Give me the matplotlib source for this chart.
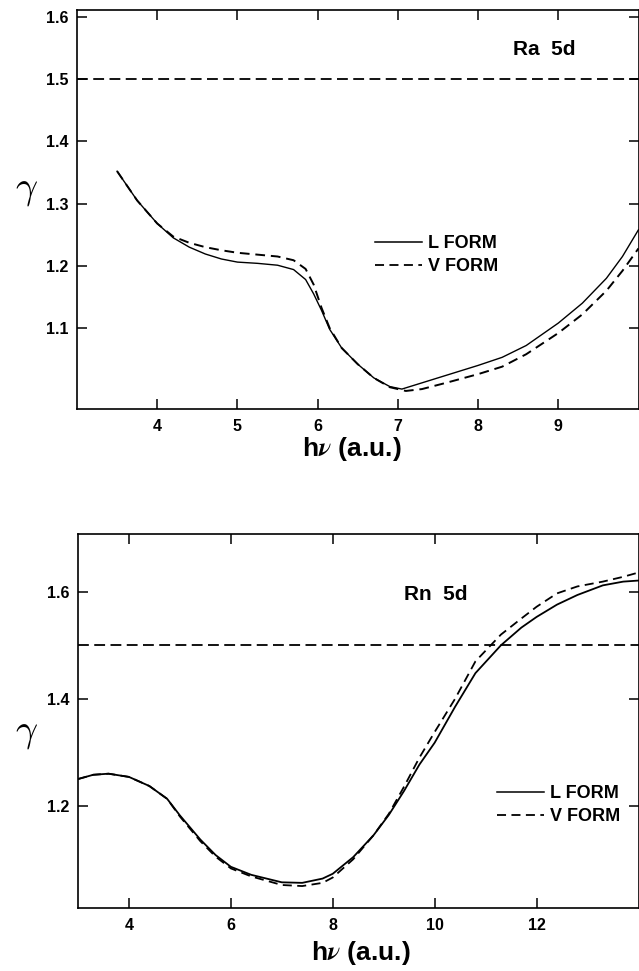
import matplotlib
matplotlib.use("Agg")
import matplotlib.pyplot as plt
from matplotlib.lines import Line2D

plt.rcParams['font.family'] = ['Liberation Sans', 'DejaVu Sans']
plt.rcParams['font.weight'] = 'bold'
plt.rcParams['mathtext.fontset'] = 'stix'

# Ra 5d panel
ra_x = [3.5, 3.75, 4.0, 4.2, 4.4, 4.6, 4.8, 5.0, 5.25, 5.5, 5.7, 5.85, 5.95, 6.05, 6.15, 6.3,
        6.5, 6.7, 6.9, 7.05, 7.3, 7.6, 8.0, 8.3, 8.6, 9.0, 9.3, 9.6, 9.8, 10.0]
ra_L = [1.352, 1.305, 1.268, 1.245, 1.230, 1.219, 1.211, 1.206, 1.204, 1.201, 1.194, 1.178,
        1.155, 1.128, 1.098, 1.068, 1.042, 1.020, 1.006, 1.002, 1.012, 1.024, 1.040, 1.053,
        1.072, 1.108, 1.140, 1.180, 1.215, 1.258]
ra_xv = [3.5, 3.75, 4.0, 4.2, 4.4, 4.6, 4.8, 5.0, 5.25, 5.5, 5.7, 5.85, 5.95, 6.05, 6.15, 6.3,
         6.5, 6.7, 6.9, 7.1, 7.3, 7.6, 8.0, 8.3, 8.6, 9.0, 9.3, 9.6, 9.8, 10.0]
ra_V = [1.352, 1.305, 1.268, 1.247, 1.237, 1.230, 1.225, 1.221, 1.218, 1.215, 1.209, 1.195,
        1.170, 1.132, 1.100, 1.068, 1.042, 1.020, 1.005, 0.999, 1.002, 1.012, 1.026, 1.038,
        1.058, 1.092, 1.122, 1.160, 1.192, 1.228]

# Rn 5d panel
rn_x = [3.0, 3.3, 3.6, 4.0, 4.4, 4.75, 5.0, 5.4, 5.7, 6.0, 6.4, 7.0, 7.4, 7.8, 8.0, 8.4,
        8.8, 9.1, 9.4, 9.7, 10.0, 10.4, 10.8, 11.3, 11.7, 12.0, 12.4, 12.8, 13.3, 13.7, 14.0]
rn_L = [1.250, 1.258, 1.260, 1.254, 1.237, 1.213, 1.182, 1.137, 1.108, 1.086, 1.071, 1.057,
        1.056, 1.064, 1.073, 1.104, 1.145, 1.183, 1.228, 1.277, 1.318, 1.385, 1.448, 1.500,
        1.533, 1.553, 1.576, 1.594, 1.612, 1.619, 1.621]
rn_V = [1.250, 1.258, 1.260, 1.254, 1.237, 1.213, 1.180, 1.134, 1.105, 1.083, 1.068, 1.052,
        1.050, 1.056, 1.066, 1.100, 1.145, 1.185, 1.236, 1.290, 1.338, 1.400, 1.470, 1.520,
        1.550, 1.572, 1.597, 1.610, 1.619, 1.628, 1.636]

limit = 1.5

fig = plt.figure(figsize=(6.39, 9.71), dpi=100)
ax1 = fig.add_axes([77 / 639, 1 - 409 / 971, 561.5 / 639, 399 / 971])
ax2 = fig.add_axes([78 / 639, 1 - 908 / 971, 560.5 / 639, 374 / 971])


def style(ax):
    for s in ax.spines.values():
        s.set_linewidth(1.2)
    ax.tick_params(direction='in', length=7, width=1.1, top=True, right=True,
                   labelsize=11.5)
    ax.tick_params(axis='x', pad=7)
    ax.tick_params(axis='y', pad=6)
    for lab in ax.get_xticklabels() + ax.get_yticklabels():
        lab.set_fontweight('bold')


def legend(ax, x, y):
    handles = [Line2D([], [], color='black', lw=1.1),
               Line2D([], [], color='black', lw=1.3, dashes=(5, 3))]
    ax.legend(handles, ['L FORM', 'V FORM'], loc='center left', bbox_to_anchor=(x, y),
              frameon=False, borderpad=0, borderaxespad=0, handlelength=2.6,
              handletextpad=0.35, labelspacing=0.35,
              prop={'size': 13, 'weight': 'bold'})


# top panel
ax1.plot(ra_x, ra_L, color='black', lw=1.0)
ax1.plot(ra_xv, ra_V, color='black', lw=1.4, dashes=(5, 3))
ax1.axhline(limit, color='black', lw=1.3, dashes=(6, 3))
ax1.set_xlim(3, 10)
ax1.set_ylim(0.97, 1.611)
ax1.set_xticks([4, 5, 6, 7, 8, 9])
ax1.set_yticks([1.1, 1.2, 1.3, 1.4, 1.5, 1.6])
ax1.set_yticklabels(['1.1', '1.2', '1.3', '1.4', '1.5', '1.6'])
style(ax1)
ax1.text(0.833, 0.902, 'Ra  5d', transform=ax1.transAxes, ha='center', va='center',
         fontsize=15, fontweight='bold')
legend(ax1, 0.531, 0.386)

# bottom panel
ax2.plot(rn_x, rn_L, color='black', lw=1.3)
ax2.plot(rn_x, rn_V, color='black', lw=1.3, dashes=(5, 3))
ax2.axhline(limit, color='black', lw=1.3, dashes=(6, 3))
ax2.set_xlim(3, 14)
ax2.set_ylim(1.009, 1.708)
ax2.set_xticks([4, 6, 8, 10, 12])
ax2.set_yticks([1.2, 1.4, 1.6])
ax2.set_yticklabels(['1.2', '1.4', '1.6'])
style(ax2)
ax2.text(0.639, 0.837, 'Rn  5d', transform=ax2.transAxes, ha='center', va='center',
         fontsize=15, fontweight='bold')
legend(ax2, 0.7475, 0.275)

# axis titles
fig.text(352 / 639, 1 - 449 / 971, r'h$\nu$ (a.u.)', ha='center', va='center',
         fontsize=19, fontweight='bold')
fig.text(361 / 639, 1 - 953 / 971, r'h$\nu$ (a.u.)', ha='center', va='center',
         fontsize=19, fontweight='bold')
fig.text(27 / 639, 1 - 190 / 971, r'$\gamma$', ha='center', va='center', fontsize=28,
         fontweight='normal', math_fontfamily='cm')
fig.text(27 / 639, 1 - 733 / 971, r'$\gamma$', ha='center', va='center', fontsize=28,
         fontweight='normal', math_fontfamily='cm')

plt.savefig('out.png', dpi=100)
plt.close()
